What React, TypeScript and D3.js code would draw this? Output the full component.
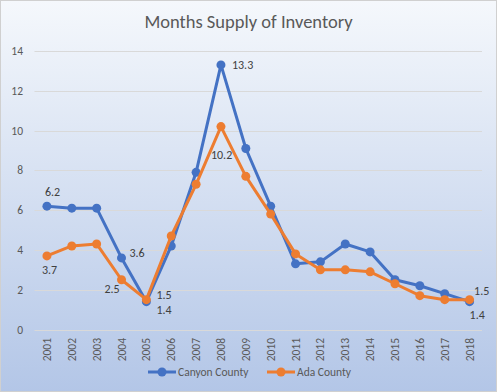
import React from "react";
import * as d3 from "d3";

const years = ["2001","2002","2003","2004","2005","2006","2007","2008","2009","2010","2011","2012","2013","2014","2015","2016","2017","2018"];
const canyon = [6.2, 6.1, 6.1, 3.6, 1.4, 4.2, 7.9, 13.3, 9.1, 6.2, 3.3, 3.4, 4.3, 3.9, 2.5, 2.2, 1.8, 1.4];
const ada = [3.7, 4.2, 4.3, 2.5, 1.5, 4.7, 7.3, 10.2, 7.7, 5.8, 3.8, 3.0, 3.0, 2.9, 2.3, 1.7, 1.5, 1.5];
const yTicks = [0, 2, 4, 6, 8, 10, 12, 14];

// labelled points: [index, dx, dy]
const canyonLabels: [number, number, number][] = [[0, -2, -10], [3, 8, -1], [4, 10, 12], [7, 11, 4.5], [17, 0, 17]];
const adaLabels: [number, number, number][] = [[0, -5, 18], [3, -17, 13], [4, 10, -1], [7, -10, 32], [17, 4.5, -5]];

const W = 497, H = 392;
const blue = "#4472C4", orange = "#ED7D31", txt = "#595959";
const font = "Calibri, Carlito, 'Open Sans', sans-serif";

export default function App() {
  const x = d3.scaleBand<string>().domain(years).range([34.5, 482]);
  const y = d3.scaleLinear().domain([0, 14]).range([329.5, 51]);
  const cx = (i: number) => (x(years[i]) as number) + x.bandwidth() / 2;
  const line = d3.line<number>().x((_, i) => cx(i)).y(d => y(d));

  const series = [
    { name: "Canyon County", vals: canyon, color: blue, labels: canyonLabels },
    { name: "Ada County", vals: ada, color: orange, labels: adaLabels },
  ];

  return (
    <svg width={W} height={H} style={{ position: "absolute", left: 0, top: 0 }} fontFamily={font}>
      <defs>
        <linearGradient id="bg" x1="0" y1="0" x2="0" y2="1">
          <stop offset="0" stopColor="#f5f8fc" />
          <stop offset="1" stopColor="#b3c6e7" />
        </linearGradient>
      </defs>
      <rect x={0.5} y={0.5} width={W - 1} height={H - 1} fill="url(#bg)" stroke="#d0d0d0" />
      <text x={W / 2} y={28} textAnchor="middle" fontSize={18.5} fill={txt}>Months Supply of Inventory</text>
      {yTicks.map(t => (
        <g key={t}>
          <line x1={34.5} x2={482} y1={Math.round(y(t)) + 0.5} y2={Math.round(y(t)) + 0.5} stroke="#d9d9d9" strokeWidth={1} />
          <text x={23} y={y(t) + 4} textAnchor="end" fontSize={11.5} fill={txt}>{t}</text>
        </g>
      ))}
      {years.map((yr, i) => (
        <text key={yr} transform={`translate(${cx(i) + 4},338) rotate(-90)`} textAnchor="end" fontSize={11.5} fill={txt}>{yr}</text>
      ))}
      {series.map(s => (
        <g key={s.name}>
          <path d={line(s.vals) as string} fill="none" stroke={s.color} strokeWidth={3} strokeLinejoin="round" />
          {s.vals.map((v, i) => <circle key={i} cx={cx(i)} cy={y(v)} r={4.5} fill={s.color} />)}
        </g>
      ))}
      {series.map(s => s.labels.map(([i, dx, dy]) => (
        <text key={s.name + i} x={cx(i) + dx} y={y(s.vals[i]) + dy} fontSize={12} fill="#404040">{s.vals[i].toFixed(1)}</text>
      )))}
      {series.map((s, k) => {
        const lx = k === 0 ? 148 : 267;
        return (
          <g key={s.name}>
            <line x1={lx} x2={lx + 28} y1={372} y2={372} stroke={s.color} strokeWidth={3} />
            <circle cx={lx + 14} cy={372} r={4.5} fill={s.color} />
            <text x={lx + 30} y={376} fontSize={11.5} fill={txt}>{s.name}</text>
          </g>
        );
      })}
    </svg>
  );
}
